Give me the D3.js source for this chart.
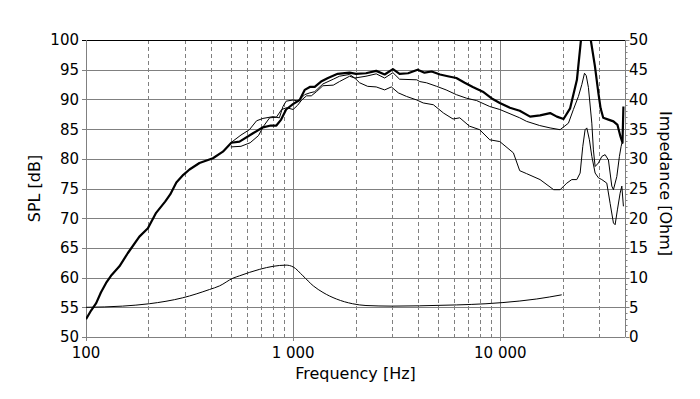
<!DOCTYPE html>
<html>
<head>
<meta charset="utf-8">
<script src="https://cdn.jsdelivr.net/npm/d3@7"></script>
<style>
  html, body { margin: 0; padding: 0; background: #fff; }
  svg { display: block; font-family: 'DejaVu Sans', Verdana, sans-serif; }
</style>
</head>
<body>
<div id="chart"></div>
<script>
// values: [frequency Hz, value]
const splOnAxis = [
  [100, 53.0], [106, 54.5], [112, 55.7], [118, 57.5], [125, 59.1], [132, 60.3],
  [145, 61.9], [159, 64.1], [181, 66.9], [199, 68.3], [218, 70.9], [241, 72.8],
  [255, 74.0], [273, 76.0], [295, 77.3], [316, 78.2], [353, 79.3], [410, 80.1],
  [458, 81.2], [503, 82.7], [551, 82.9], [640, 84.3], [715, 85.3], [780, 85.6],
  [830, 85.6], [875, 86.6], [925, 88.3], [998, 89.2], [1075, 89.9], [1137, 91.6],
  [1204, 92.1], [1271, 92.1], [1364, 93.0], [1473, 93.6], [1641, 94.3], [1873, 94.5],
  [2010, 94.3], [2247, 94.4], [2518, 94.8], [2766, 94.2], [3032, 95.1], [3264, 94.3],
  [3588, 94.4], [3991, 95.0], [4307, 94.5], [4664, 94.7], [5118, 94.2], [5578, 93.9],
  [6136, 93.6], [6733, 92.8], [7367, 92.1], [8238, 91.3], [9056, 90.2], [9945, 89.4],
  [11130, 88.6], [12410, 88.1], [13930, 87.1], [15560, 87.3], [17400, 87.7], [18750, 87.1],
  [20200, 86.7], [21730, 88.5], [23440, 93.3], [24600, 100.5], [25800, 103.0], [27200, 100.5],
  [28630, 95.6], [29770, 91.0], [30500, 88.5], [31400, 86.9], [33270, 86.6], [35170, 86.3],
  [36800, 85.7], [38000, 83.8], [38900, 82.7], [39300, 88.8]
];

const splOffAxisA = [
  [500, 82.7], [560, 84.0], [615, 84.9], [666, 86.4], [715, 86.8], [800, 87.1],
  [858, 86.9], [893, 88.8], [925, 89.7], [1000, 89.9], [1058, 89.7], [1137, 90.8],
  [1204, 91.1], [1271, 91.3], [1392, 92.6], [1562, 93.4], [1673, 93.9], [1873, 94.2],
  [1983, 93.6], [2247, 93.9], [2518, 94.3], [2766, 93.6], [3032, 94.5], [3264, 93.4],
  [3951, 93.3], [4090, 93.0], [4400, 92.8], [4930, 92.2], [5475, 91.6], [6136, 90.8],
  [6870, 90.2], [7690, 89.8], [8897, 88.8], [9945, 88.3], [12410, 86.9], [13400, 86.3],
  [15500, 85.6], [17400, 85.2], [19440, 84.9], [21330, 86.0], [22540, 88.3], [23830, 90.5],
  [24750, 92.5], [25500, 94.4], [26000, 94.0], [26640, 92.0], [27660, 86.0], [28150, 81.5],
  [28700, 78.7], [29770, 79.3], [30920, 80.4], [32070, 80.7], [33270, 79.8], [34540, 75.4],
  [35170, 74.8], [36520, 77.0], [37590, 80.4], [38320, 82.1], [38700, 82.7]
];

const splOffAxisB = [
  [500, 82.0], [560, 82.1], [620, 82.7], [680, 83.9], [720, 85.5], [770, 86.9],
  [830, 87.0], [880, 88.3], [930, 88.6], [1000, 88.3], [1050, 89.0], [1100, 89.9],
  [1160, 90.6], [1224, 90.6], [1295, 91.3], [1392, 92.3], [1562, 92.4], [1673, 93.0],
  [1873, 93.9], [1983, 93.6], [2094, 92.8], [2289, 92.2], [2518, 92.1], [2766, 91.6],
  [2979, 92.1], [3219, 91.1], [3526, 90.5], [3951, 89.9], [4246, 89.4], [4752, 89.1],
  [5320, 87.7], [5914, 86.7], [6373, 86.9], [7098, 85.5], [7950, 84.9], [8897, 83.2],
  [9945, 82.9], [11570, 81.0], [12410, 78.0], [13400, 77.5], [15560, 76.5], [18100, 74.8],
  [19440, 74.8], [20950, 75.9], [22140, 76.5], [23410, 76.5], [24290, 77.6], [25020, 82.1],
  [25670, 84.9], [26160, 85.2], [26930, 83.2], [27660, 80.4], [28700, 77.6], [29770, 76.8],
  [30920, 76.5], [32670, 75.9], [33900, 72.5], [35170, 69.2], [35840, 68.9], [36760, 71.4],
  [37880, 74.2], [38610, 75.4], [39300, 72.0]
];

const impedance = [
  [100, 5.0], [150, 5.2], [202, 5.6], [293, 6.6], [395, 8.0], [441, 8.6],
  [512, 9.9], [551, 10.3], [690, 11.4], [800, 11.9], [925, 12.1], [1000, 11.8],
  [1115, 10.3], [1252, 8.6], [1393, 7.5], [1617, 6.4], [1937, 5.6], [2247, 5.3],
  [3000, 5.2], [4070, 5.25], [6140, 5.4], [8530, 5.6], [10300, 5.8], [15000, 6.4],
  [19800, 7.1]
];

const freqTicks = [100, 1000, 10000];
const freqMinor = [200, 300, 400, 500, 600, 700, 800, 900,
  2000, 3000, 4000, 5000, 6000, 7000, 8000, 9000, 20000, 30000];
const splTicks = [50, 55, 60, 65, 70, 75, 80, 85, 90, 95, 100];
const ohmTicks = [0, 5, 10, 15, 20, 25, 30, 35, 40, 45, 50];

const width = 700;
const height = 399;
const margin = { top: 40, right: 75, bottom: 62, left: 86 };
const plotW = width - margin.left - margin.right;
const plotH = height - margin.top - margin.bottom;
const grey = '#808080';

const x = d3.scaleLog().domain([100, 40000]).range([0, plotW]);
const ySpl = d3.scaleLinear().domain([50, 100]).range([plotH, 0]);
const yOhm = d3.scaleLinear().domain([0, 50]).range([plotH, 0]);
const fmt = d => d3.format(',')(d).replace(/,/g, ' ');

const svg = d3.select('#chart')
  .append('svg')
  .attr('width', width)
  .attr('height', height);

svg.append('rect').attr('width', width).attr('height', height).attr('fill', '#fff');

const g = svg.append('g')
  .attr('transform', `translate(${margin.left}, ${margin.top})`);

svg.append('defs').append('clipPath')
  .attr('id', 'plot-clip')
  .append('rect')
  .attr('width', plotW)
  .attr('height', plotH);

// dashed minor verticals
g.append('g')
  .selectAll('line')
  .data(freqMinor)
  .enter()
  .append('line')
  .attr('x1', d => Math.round(x(d)) + 0.5)
  .attr('x2', d => Math.round(x(d)) + 0.5)
  .attr('y1', 0)
  .attr('y2', plotH)
  .attr('stroke', grey)
  .attr('stroke-dasharray', '4,3');

// decade verticals (with a small tick below the axis)
g.append('g')
  .selectAll('line')
  .data(freqTicks)
  .enter()
  .append('line')
  .attr('x1', d => Math.round(x(d)) + 0.5)
  .attr('x2', d => Math.round(x(d)) + 0.5)
  .attr('y1', 0)
  .attr('y2', plotH + 4)
  .attr('stroke', grey);

// horizontal grid, extends left as ticks
g.append('g')
  .selectAll('line')
  .data(splTicks)
  .enter()
  .append('line')
  .attr('x1', -4)
  .attr('x2', plotW)
  .attr('y1', d => Math.round(ySpl(d)) + 0.5)
  .attr('y2', d => Math.round(ySpl(d)) + 0.5)
  .attr('stroke', d => (d === 100 ? '#000' : grey));

// right axis line with minor ticks every ohm
const rightX = Math.round(plotW) + 0.5;
g.append('line')
  .attr('x1', rightX).attr('x2', rightX)
  .attr('y1', 0).attr('y2', plotH)
  .attr('stroke', grey);

g.append('g')
  .selectAll('line')
  .data(d3.range(0, 51))
  .enter()
  .append('line')
  .attr('x1', rightX)
  .attr('x2', d => rightX + (d % 5 === 0 ? 4 : 2))
  .attr('y1', d => Math.round(yOhm(d)) + 0.5)
  .attr('y2', d => Math.round(yOhm(d)) + 0.5)
  .attr('stroke', grey);

// left axis line
g.append('line')
  .attr('x1', 0.5).attr('x2', 0.5)
  .attr('y1', 0).attr('y2', plotH + 4)
  .attr('stroke', grey);

// tick labels
g.append('g')
  .selectAll('text')
  .data(splTicks)
  .enter()
  .append('text')
  .attr('x', -7)
  .attr('y', d => ySpl(d))
  .attr('dy', '0.36em')
  .attr('text-anchor', 'end')
  .style('font-size', '15px')
  .attr('fill', '#000')
  .text(d => d);

g.append('g')
  .selectAll('text')
  .data(ohmTicks)
  .enter()
  .append('text')
  .attr('x', plotW + 4)
  .attr('y', d => yOhm(d))
  .attr('dy', '0.36em')
  .attr('text-anchor', 'start')
  .style('font-size', '15px')
  .attr('fill', '#000')
  .text(d => d);

g.append('g')
  .selectAll('text')
  .data(freqTicks)
  .enter()
  .append('text')
  .attr('x', d => x(d))
  .attr('y', plotH + 21)
  .attr('text-anchor', 'middle')
  .style('font-size', '15px')
  .attr('fill', '#000')
  .text(fmt);

// axis titles
svg.append('text')
  .attr('x', margin.left + plotW / 2)
  .attr('y', 379)
  .attr('text-anchor', 'middle')
  .style('font-size', '16px')
  .attr('fill', '#000')
  .text('Frequency [Hz]');

svg.append('text')
  .attr('transform', `translate(40, ${margin.top + plotH / 2}) rotate(-90)`)
  .attr('text-anchor', 'middle')
  .style('font-size', '16px')
  .attr('fill', '#000')
  .text('SPL [dB]');

svg.append('text')
  .attr('transform', `translate(660, ${margin.top + plotH / 2 - 5}) rotate(90)`)
  .attr('text-anchor', 'middle')
  .style('font-size', '16px')
  .attr('fill', '#000')
  .text('Impedance [Ohm]');

// curves
const lines = g.append('g').attr('clip-path', 'url(#plot-clip)');

const splLine = d3.line()
  .x(d => x(d[0]))
  .y(d => ySpl(d[1]));

const ohmLine = d3.line()
  .x(d => x(d[0]))
  .y(d => yOhm(d[1]))
  .curve(d3.curveMonotoneX);

lines.append('path')
  .datum(impedance)
  .attr('d', ohmLine)
  .attr('fill', 'none')
  .attr('stroke', '#000')
  .attr('stroke-width', 1);

[splOffAxisB, splOffAxisA].forEach(series => {
  lines.append('path')
    .datum(series)
    .attr('d', splLine)
    .attr('fill', 'none')
    .attr('stroke', '#000')
    .attr('stroke-width', 1)
    .attr('stroke-linejoin', 'round');
});

lines.append('path')
  .datum(splOnAxis)
  .attr('d', splLine)
  .attr('fill', 'none')
  .attr('stroke', '#000')
  .attr('stroke-width', 2.2)
  .attr('stroke-linejoin', 'round');
</script>
</body>
</html>
